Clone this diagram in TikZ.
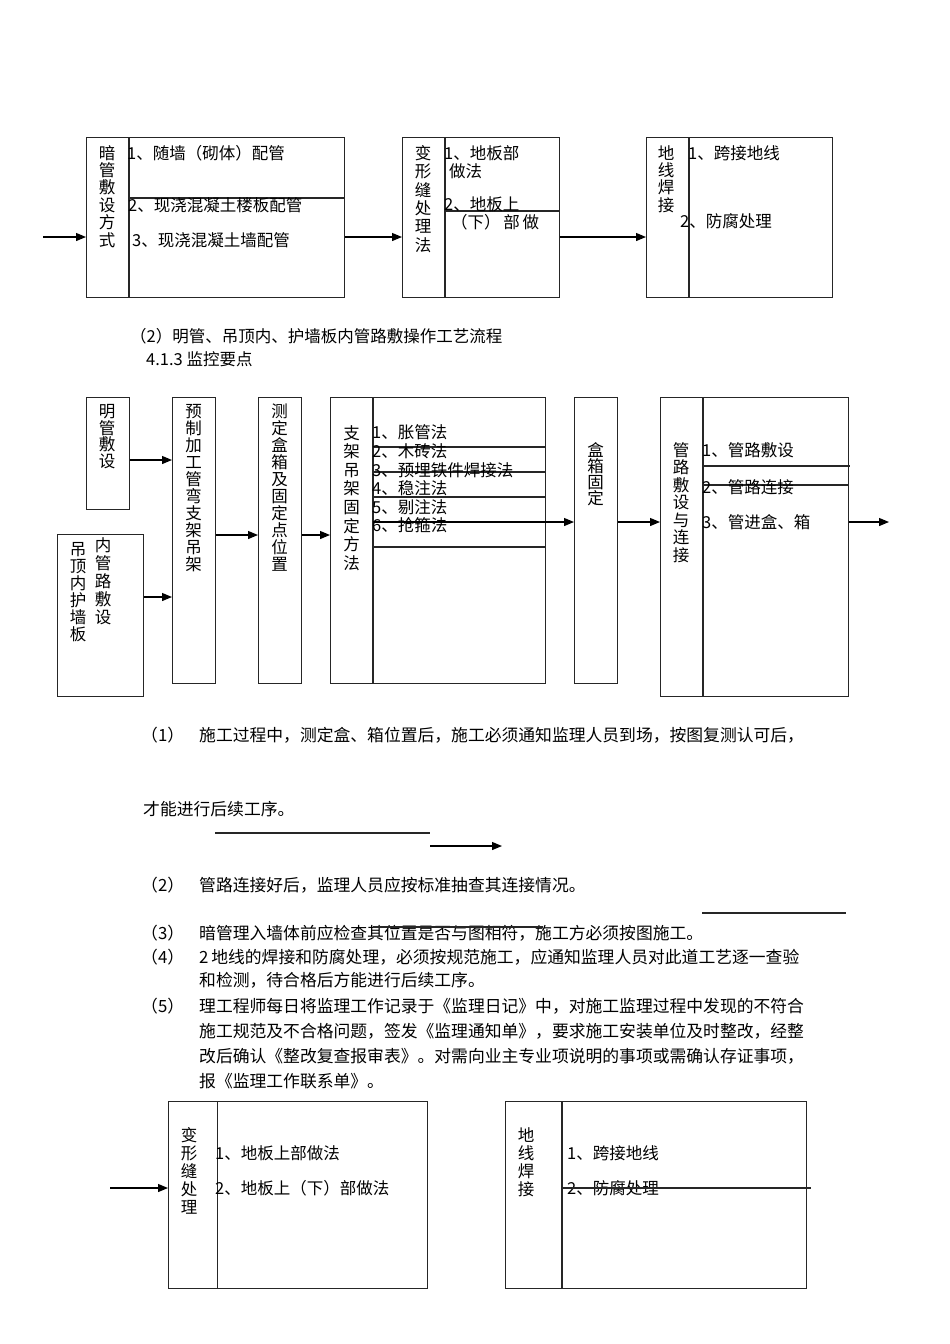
\documentclass[tikz,border=0pt]{standalone}
\usepackage{fontspec}
\setmainfont{Noto Sans CJK SC}
\usetikzlibrary{arrows.meta, positioning}
\tikzset{
  box/.style={draw=black!85, line width=1.1pt, anchor=north west, inner sep=0pt},
  vlabel/.style={font=\fontsize{16.5}{#1}\selectfont, align=center, inner sep=0pt, anchor=north},
  vlabel/.default=17.5,
  item/.style={font=\fontsize{16.5}{20}\selectfont, inner sep=0pt, anchor=west},
  para/.style={font=\fontsize{16.8}{20}\selectfont, inner sep=0pt, anchor=west},
  arr/.style={line width=1.2pt, -{Triangle[length=10pt, width=8pt]}},
  divline/.style={line width=1.1pt, draw=black!85}
}

\begin{document}
\begin{tikzpicture}[x=1pt, y=-1pt]
\useasboundingbox (0,0) rectangle (950,1344);

% first flow row
\node[box, minimum width=258pt, minimum height=160pt] (anguan) at (86,137) {};
\node[box, minimum width=157pt, minimum height=160pt] (bianxing) at (402,137) {};
\node[box, minimum width=186pt, minimum height=160pt] (dixian) at (646,137) {};
\draw[divline] (129,137) -- (129,297);
\draw[divline] (129,198) -- (344,198);
\draw[divline] (445,137) -- (445,297);
\draw[divline] (445,211) -- (559,211);
\draw[divline] (689,137) -- (689,297);

\node[vlabel=17.4] (anguanL) at (107,145) {暗\\管\\敷\\设\\方\\式};
\node[item] (ag1) at (127,153) {1、随墙（砌体）配管};
\node[item] (ag2) at (128,205) {2、现浇混凝土楼板配管};
\node[item] (ag3) at (132,240) {3、现浇混凝土墙配管};

\node[vlabel=18.4] (bianxingL) at (423,145) {变\\形\\缝\\处\\理\\法};
\node[item] (bx1) at (444,153) {1、地板部};
\node[item] (bx1b) at (449,171) {做法};
\node[item] (bx2) at (444,204) {2、地板上};
\node[item] (bx2b) at (451,222) {（下）\,部\,做};

\node[vlabel=17.4] (dixianL) at (666,145) {地\\线\\焊\\接};
\node[item] (dx1) at (688,153) {1、跨接地线};
\node[item] (dx2) at (680,221) {2、防腐处理};

\coordinate (inA) at (43,237);
\draw[arr] (inA) -- (inA -| anguan.west);
\draw[arr] (anguan.east |- inA) -- (bianxing.west |- inA);
\draw[arr] (bianxing.east |- inA) -- (dixian.west |- inA);

\node[item] (cap2) at (130,336) {（2）明管、吊顶内、护墙板内管路敷操作工艺流程};
\node[item] (cap413) at (146,359) {4.1.3 监控要点};

% second flow
\node[box, minimum width=43pt, minimum height=112pt] (mingguan) at (86,397) {};
\node[box, minimum width=86pt, minimum height=162pt] (diaoding) at (57,534) {};
\node[box, minimum width=43pt, minimum height=286pt] (yuzhi) at (172,397) {};
\node[box, minimum width=43pt, minimum height=286pt] (cedin) at (258,397) {};
\node[box, minimum width=215pt, minimum height=286pt] (zhijia) at (330,397) {};
\node[box, minimum width=43pt, minimum height=286pt] (hexiang) at (574,397) {};
\node[box, minimum width=188pt, minimum height=299pt] (guanlu) at (660,397) {};

\node[vlabel=16.7] (mingguanL) at (107,404) {明\\管\\敷\\设};
\node[vlabel=17.1] (diaodingL) at (78,542) {吊\\顶\\内\\护\\墙\\板};
\node[vlabel=18] (diaodingR) at (103,537) {内\\管\\路\\敷\\设};
\node[vlabel=17] (yuzhiL) at (193.5,404) {预\\制\\加\\工\\管\\弯\\支\\架\\吊\\架};
\node[vlabel=17] (cedinL) at (279.5,404) {测\\定\\盒\\箱\\及\\固\\定\\点\\位\\置};

\draw[divline] (373,397) -- (373,683);
\foreach \yy in {447,472,497,547}
  \draw[divline] (373,\yy) -- (545,\yy);
\node[vlabel=18.6] (zhijiaL) at (351.5,425) {支\\架\\吊\\架\\固\\定\\方\\法};
\node[item] (zj1) at (372,432) {1、胀管法};
\node[item] (zj2) at (372,451) {2、木砖法};
\node[item] (zj3) at (372,470) {3、预埋铁件焊接法};
\node[item] (zj4) at (372,488) {4、稳注法};
\node[item] (zj5) at (372,507) {5、剔注法};
\node[item] (zj6) at (372,525) {6、抢箍法};

\node[vlabel=16] (hexiangL) at (595.5,442) {盒\\箱\\固\\定};

\draw[divline] (703,397) -- (703,696);
\draw[divline] (703,466) -- (850,466);
\draw[divline] (703,485) -- (848,485);
\node[vlabel=17.5] (guanluL) at (681,442) {管\\路\\敷\\设\\与\\连\\接};
\node[item] (gl1) at (702,450) {1、管路敷设};
\node[item] (gl2) at (702,487) {2、管路连接};
\node[item] (gl3) at (702,522) {3、管进盒、箱};

\coordinate (zjOut) at (373,522);
\coordinate (glOut) at (889,522);
\draw[arr] (mingguan.east |- 0,460) -- (yuzhi.west |- 0,460);
\draw[arr] (diaoding.east |- 0,597) -- (yuzhi.west |- 0,597);
\draw[arr] (yuzhi.east |- 0,535) -- (cedin.west |- 0,535);
\draw[arr] (cedin.east |- 0,535) -- (zhijia.west |- 0,535);
\draw[arr] (zjOut) -- (hexiang.west |- zjOut);
\draw[arr] (hexiang.east |- zjOut) -- (guanlu.west |- zjOut);
\draw[arr] (guanlu.east |- glOut) -- (glOut);

% check points
\node[para] (n1) at (141,735) {（1）};
\node[para] (p1) at (199,735) {施工过程中，测定盒、箱位置后，施工必须通知监理人员到场，按图复测认可后，};
\node[para] (p1b) at (143,809) {才能进行后续工序。};
\coordinate (ruleA) at (215,833);
\coordinate (ruleB) at (430,833);
\draw[divline] (ruleA) -- (ruleB);
\coordinate (arrA) at (430,846);
\coordinate (arrB) at (502,846);
\draw[arr] (arrA) -- (arrB);
\node[para] (n2) at (141,885) {（2）};
\node[para] (p2) at (199,885) {管路连接好后，监理人员应按标准抽查其连接情况。};
\coordinate (ruleC) at (702,913);
\coordinate (ruleD) at (846,913);
\draw[divline] (ruleC) -- (ruleD);
\node[para] (n3) at (141,933) {（3）};
\node[para] (p3) at (199,933) {暗管理入墙体前应检查其位置是否与图相符，施工方必须按图施工。};
\coordinate (ruleE) at (373,927);
\coordinate (ruleF) at (543,927);
\draw[divline] (ruleE) -- (ruleF);
\node[para] (n4) at (141,957) {（4）};
\node[para] (p4) at (199,957) {2\,地线的焊接和防腐处理，必须按规范施工，应通知监理人员对此道工艺逐一查验};
\node[para] (p4b) at (199,980) {和检测，待合格后方能进行后续工序。};
\node[para] (n5) at (141,1006) {（5）};
\node[para] (p5) at (199,1006) {理工程师每日将监理工作记录于《监理日记》中，对施工监理过程中发现的不符合};
\node[para] (p5b) at (199,1031) {施工规范及不合格问题，签发《监理通知单》，要求施工安装单位及时整改，经整};
\node[para] (p5c) at (199,1056) {改后确认《整改复查报审表》。对需向业主专业项说明的事项或需确认存证事项，};
\node[para] (p5d) at (199,1081) {报《监理工作联系单》。};

% last row
\node[box, minimum width=259pt, minimum height=187pt] (bianxing2) at (168,1101) {};
\node[box, minimum width=301pt, minimum height=187pt] (dixian2) at (505,1101) {};
\draw[divline] (217.5,1101) -- (217.5,1288);
\draw[divline] (562,1101) -- (562,1288);
\node[vlabel=18] (bianxing2L) at (189,1127) {变\\形\\缝\\处\\理};
\node[item] (bb1) at (215,1153) {1、地板上部做法};
\node[item] (bb2) at (215,1188) {2、地板上（下）部做法};
\node[vlabel=18] (dixian2L) at (526,1127) {地\\线\\焊\\接};
\node[item] (dd1) at (567,1153) {1、跨接地线};
\node[item] (dd2) at (567,1188) {2、防腐处理};
\coordinate (ruleG) at (811,1188);
\draw[divline] (562,1188) -- (ruleG);
\coordinate (inK) at (110,1188);
\draw[arr] (inK) -- (inK -| bianxing2.west);
\end{tikzpicture}
\end{document}
